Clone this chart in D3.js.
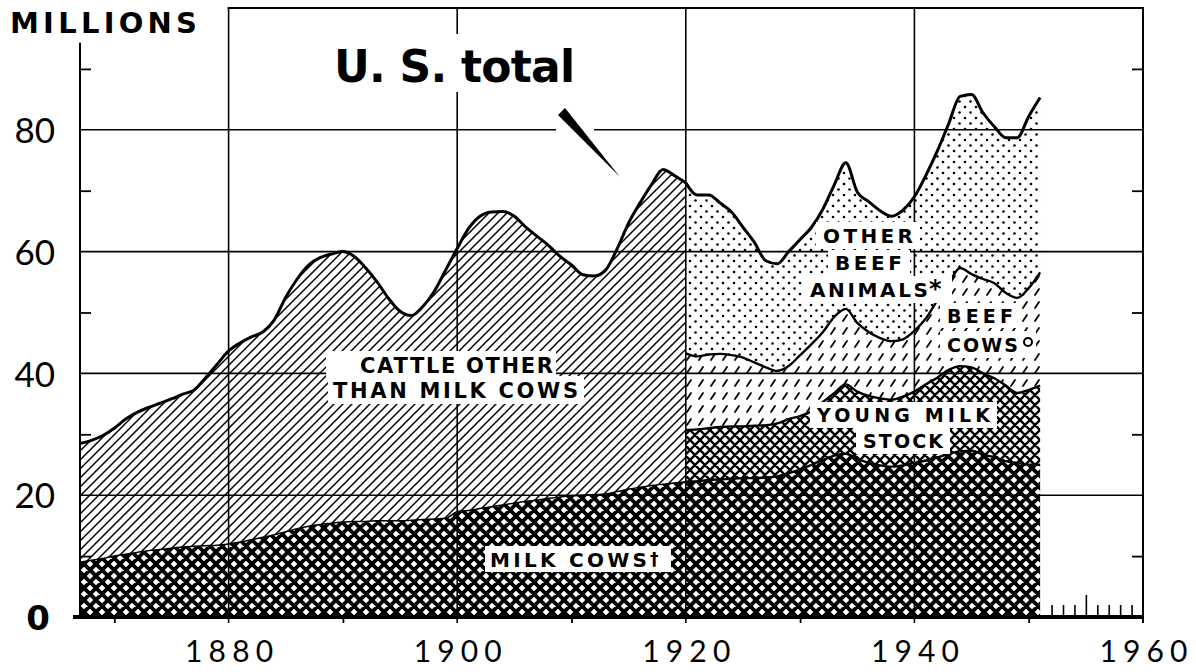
<!DOCTYPE html>
<html lang="en">
<head>
<meta charset="UTF-8">
<title>Cattle on farms, U.S. total</title>
<script src="https://cdn.jsdelivr.net/npm/d3@7"></script>
<style>
    body { margin: 0; background: #fff; }
    text { font-family: Lato, "Open Sans", sans-serif; fill: #000; }
    .bold { font-family: "DejaVu Sans", Lato, sans-serif; font-weight: 700; }
</style>
</head>
<body>
<script>
    var width = 1196;
    var height = 672;

    // ---- data (millions of head, Jan. 1) ----
    var years = d3.range(1867, 1952);
    var milkCows = [
        9.0, 9.3, 9.6, 10.0, 10.3, 10.6, 10.9, 11.1, 11.3, 11.5,
        11.6, 11.7, 11.8, 12.0, 12.3, 12.7, 13.1, 13.5, 14.0, 14.5,
        14.9, 15.2, 15.4, 15.6, 15.7, 15.7, 15.8, 15.8, 15.8, 15.9,
        16.0, 16.1, 16.2, 17.3, 17.5, 17.8, 18.1, 18.4, 18.7, 19.0,
        19.2, 19.5, 19.7, 19.9, 20.0, 20.1, 20.2, 20.6, 21.0, 21.3,
        21.6, 21.8, 22.0, 22.2, 22.3, 22.5, 22.6, 22.7, 22.8, 22.8,
        22.9, 23.1, 23.6, 24.2, 25.0, 25.8, 26.5, 26.8, 26.0, 25.3,
        24.9, 24.7, 24.9, 25.3, 25.7, 26.2, 26.8, 27.2, 27.3, 26.7,
        26.2, 25.6, 25.3, 25.0, 25.0
    ];
    // 1867-1920
    var earlyYears = d3.range(1867, 1921);
    var otherCattle = [
        19.5, 19.7, 20.2, 21.0, 22.2, 23.0, 23.5, 24.0, 24.5, 25.1,
        25.7, 27.6, 29.7, 31.7, 32.7, 33.3, 33.7, 35.3, 38.5, 41.0,
        42.9, 43.8, 44.2, 44.4, 43.5, 41.6, 39.2, 36.5, 34.4, 33.6,
        35.0, 37.4, 40.8, 43.2, 46.3, 48.0, 48.4, 48.2, 47.1, 45.0,
        43.3, 41.5, 39.5, 37.9, 36.2, 35.9, 36.8, 39.9, 43.7, 46.7,
        49.4, 51.7, 50.5, 49.1
    ];
    // 1920-1951
    var lateYears = d3.range(1920, 1952);
    var youngMilkStock = [
        8.5, 8.5, 8.5, 8.6, 8.6, 8.5, 8.6, 8.6, 8.7, 8.9,
        8.8, 8.8, 9.5, 10.3, 11.4, 11.0, 11.0, 11.0, 11.0, 11.3,
        11.7, 12.5, 13.1, 13.8, 14.0, 13.7, 13.3, 13.0, 12.4, 11.5,
        12.3, 13.0
    ];
    var beefCows = [
        12.6, 12.0, 12.1, 12.0, 11.7, 11.3, 10.4, 9.5, 8.6, 8.7,
        10.0, 11.0, 11.5, 12.5, 12.4, 11.3, 10.5, 9.9, 9.6, 9.4,
        10.0, 10.8, 12.7, 14.2, 16.1, 15.3, 15.5, 15.6, 15.2, 15.6,
        16.7, 18.6
    ];
    var otherBeefAnimals = [
        28.0, 26.5, 26.2, 24.8, 23.5, 21.4, 19.7, 17.5, 17.6, 18.8,
        19.0, 19.2, 20.2, 21.7, 24.0, 21.5, 21.4, 20.9, 20.5, 21.2,
        22.0, 23.5, 24.5, 26.2, 28.2, 29.5, 27.3, 25.7, 25.5, 26.3,
        28.2, 28.7
    ];
    var yLabels = [20, 40, 60, 80];
    var yMinor = [10, 30, 50, 70, 90];
    var xLabels = [1880, 1900, 1920, 1940, 1960];
    var xMinor = [1870, 1890, 1910, 1930, 1950];
    var xYearTicks = [1952, 1953, 1954, 1956, 1957, 1958, 1959];

    var svg = d3.select('body').append('svg')
            .attr('width', width)
            .attr('height', height);

    var x = d3.scaleLinear().domain([1867, 1960]).range([80, 1143]);
    var y = d3.scaleLinear().domain([0, 100]).range([617, 8]);

    // ---- fill patterns ----
    var defs = svg.append('defs');
    function pattern(id, w, h) {
        var p = defs.append('pattern')
                .attr('id', id)
                .attr('patternUnits', 'userSpaceOnUse')
                .attr('width', w)
                .attr('height', h);
        p.append('rect').attr('width', w).attr('height', h).attr('fill', '#fff');
        return p;
    }
    function cross(id, s, sw) {
        var p = pattern(id, s, s);
        p.append('path')
                .attr('d', 'M0,0L' + s + ',' + s + 'M' + s + ',0L0,' + s +
                        'M-1,1L1,-1M' + (s - 1) + ',' + (s + 1) + 'L' + (s + 1) + ',' + (s - 1) +
                        'M-1,' + (s - 1) + 'L1,' + (s + 1) + 'M' + (s - 1) + ',-1L' + (s + 1) + ',1')
                .attr('stroke', '#000')
                .attr('stroke-width', sw);
    }
    cross('milk', 12, 3.8);
    cross('young', 10, 2.4);
    var hatch = pattern('hatch', 9, 9);
    hatch.append('path')
            .attr('d', 'M-1,1L1,-1M0,9L9,0M8,10L10,8')
            .attr('stroke', '#000')
            .attr('stroke-width', 1.5);
    var dash = pattern('dash', 12, 13);
    dash.append('path')
            .attr('d', 'M3,9L7,3')
            .attr('stroke', '#000')
            .attr('stroke-width', 1.8)
            .attr('stroke-linecap', 'round');
    var dots = pattern('dots', 11, 11);
    dots.append('circle').attr('cx', 2.5).attr('cy', 2.5).attr('r', 1.3);
    dots.append('circle').attr('cx', 8).attr('cy', 8).attr('r', 1.3);

    // ---- stacks ----
    var allRows = years.map(function (yr, i) {
        return {year: yr, milk: milkCows[i]};
    });
    var earlyRows = earlyYears.map(function (yr, i) {
        return {year: yr, milk: milkCows[i], other: otherCattle[i]};
    });
    var lateRows = lateYears.map(function (yr, i) {
        return {
            year: yr,
            milk: milkCows[yr - 1867],
            young: youngMilkStock[i],
            beef: beefCows[i],
            otherBeef: otherBeefAnimals[i]
        };
    });
    var milkStack = d3.stack().keys(['milk'])(allRows);
    var earlyStack = d3.stack().keys(['milk', 'other'])(earlyRows);
    var lateStack = d3.stack().keys(['milk', 'young', 'beef', 'otherBeef'])(lateRows);

    var curve = d3.curveMonotoneX;
    var area = d3.area()
            .x(function (d) { return x(d.data.year); })
            .y0(function (d) { return y(d[0]); })
            .y1(function (d) { return y(d[1]); })
            .curve(curve);
    var topLine = d3.line()
            .x(function (d) { return x(d.data.year); })
            .y(function (d) { return y(d[1]); })
            .curve(curve);

    var areas = svg.append('g');
    areas.append('path').attr('d', area(earlyStack[1])).attr('fill', 'url(#hatch)');
    areas.append('path').attr('d', area(lateStack[3])).attr('fill', 'url(#dots)');
    areas.append('path').attr('d', area(lateStack[2])).attr('fill', 'url(#dash)');
    areas.append('path').attr('d', area(lateStack[1])).attr('fill', 'url(#young)');
    areas.append('path').attr('d', area(milkStack[0])).attr('fill', 'url(#milk)');

    // ---- grid and frame ----
    var grid = svg.append('g').attr('stroke', '#000').attr('fill', 'none');
    grid.selectAll('.hg').data(yLabels).enter().append('line')
            .attr('x1', x(1867)).attr('x2', x(1960))
            .attr('y1', function (d) { return y(d); })
            .attr('y2', function (d) { return y(d); })
            .attr('stroke-width', 1.6);
    grid.selectAll('.vg').data(xLabels.slice(0, 4)).enter().append('line')
            .attr('x1', function (d) { return x(d); })
            .attr('x2', function (d) { return x(d); })
            .attr('y1', y(100)).attr('y2', y(0) + 6)
            .attr('stroke-width', 1.6);
    grid.append('line').attr('x1', x(1880) - 1).attr('x2', x(1960) + 1)
            .attr('y1', y(100)).attr('y2', y(100)).attr('stroke-width', 2);
    grid.append('line').attr('x1', x(1960)).attr('x2', x(1960))
            .attr('y1', y(100)).attr('y2', y(0) + 6).attr('stroke-width', 2);
    grid.append('line').attr('x1', x(1867)).attr('x2', x(1867))
            .attr('y1', y(94.3)).attr('y2', y(0)).attr('stroke-width', 2);

    // ---- boundary lines ----
    var lines = svg.append('g').attr('fill', 'none').attr('stroke', '#000')
            .attr('stroke-linejoin', 'round');
    lines.append('path').attr('d', topLine(earlyStack[0])).attr('stroke-width', 1.5);
    lines.append('path').attr('d', topLine(lateStack[0])).attr('stroke-width', 2.4);
    lines.append('path').attr('d', topLine(lateStack[1])).attr('stroke-width', 2.4);
    lines.append('path').attr('d', topLine(lateStack[2])).attr('stroke-width', 2.4);
    lines.append('path').attr('d', topLine(earlyStack[1])).attr('stroke-width', 3);
    lines.append('path').attr('d', topLine(lateStack[3])).attr('stroke-width', 3);

    // ---- axes ----
    var xAxis = svg.append('g')
            .attr('transform', 'translate(0,' + y(0) + ')')
            .call(d3.axisBottom(x).tickValues(xLabels).tickSize(0).tickPadding(24)
                    .tickFormat(d3.format('d')));
    xAxis.select('.domain').remove();
    xAxis.selectAll('text')
            .attr('font-size', 30)
            .attr('font-family', 'Lato, sans-serif')
            .attr('textLength', 88)
            .attr('lengthAdjust', 'spacing');

    var xMinorAxis = svg.append('g')
            .attr('transform', 'translate(0,' + y(0) + ')')
            .call(d3.axisBottom(x).tickValues(xMinor).tickSize(6).tickFormat(''));
    xMinorAxis.select('.domain').remove();
    xMinorAxis.selectAll('line').attr('stroke-width', 1.8);

    var xYearAxis = svg.append('g')
            .attr('transform', 'translate(0,' + y(0) + ')')
            .call(d3.axisBottom(x).tickValues(xYearTicks).tickSize(-12).tickFormat(''));
    xYearAxis.select('.domain').remove();
    xYearAxis.selectAll('line').attr('stroke-width', 1.6);
    var xMidAxis = svg.append('g')
            .attr('transform', 'translate(0,' + y(0) + ')')
            .call(d3.axisBottom(x).tickValues([1955]).tickSize(-22).tickFormat(''));
    xMidAxis.select('.domain').remove();
    xMidAxis.selectAll('line').attr('stroke-width', 1.6);

    svg.append('line')
            .attr('x1', x(1867) - 7).attr('x2', x(1960) + 1)
            .attr('y1', y(0)).attr('y2', y(0))
            .attr('stroke', '#000').attr('stroke-width', 4);

    var yAxis = svg.append('g')
            .attr('transform', 'translate(' + x(1867) + ',0)')
            .call(d3.axisLeft(y).tickValues(yLabels).tickSize(0).tickPadding(25));
    yAxis.select('.domain').remove();
    yAxis.selectAll('text')
            .attr('font-size', 35)
            .attr('font-family', 'Lato, sans-serif')
            .attr('dy', '0.36em');

    var yMinorL = svg.append('g')
            .attr('transform', 'translate(' + x(1867) + ',0)')
            .call(d3.axisLeft(y).tickValues(yMinor).tickSize(-11).tickFormat(''));
    yMinorL.select('.domain').remove();
    yMinorL.selectAll('line').attr('stroke-width', 1.8);
    var yMinorR = svg.append('g')
            .attr('transform', 'translate(' + x(1960) + ',0)')
            .call(d3.axisRight(y).tickValues(yMinor).tickSize(-11).tickFormat(''));
    yMinorR.select('.domain').remove();
    yMinorR.selectAll('line').attr('stroke-width', 1.8);

    svg.append('text')
            .attr('class', 'bold')
            .attr('x', 50).attr('y', y(0) + 13)
            .attr('text-anchor', 'end')
            .attr('font-size', 34)
            .text('0');

    // ---- labels ----
    var labels = [
        {t: 'CATTLE OTHER', x: 360, y: 373, w: 193, fs: 21},
        {t: 'THAN MILK COWS', x: 333, y: 398, w: 245, fs: 21},
        {t: 'OTHER', x: 823, y: 243, w: 90, fs: 20},
        {t: 'BEEF', x: 835, y: 270, w: 67, fs: 20},
        {t: 'ANIMALS', x: 810, y: 297, w: 118, fs: 20},
        {t: 'BEEF', x: 947, y: 323, w: 66, fs: 19},
        {t: 'COWS', x: 947, y: 352, w: 71, fs: 19},
        {t: 'YOUNG MILK', x: 817, y: 422, w: 173, fs: 19},
        {t: 'STOCK', x: 863, y: 448, w: 80, fs: 19},
        {t: 'MILK COWS', x: 490, y: 567, w: 157, fs: 20}
    ];
    var boxes = [
        [326, 351, 230, 26], [328, 376, 256, 28],
        [816, 222, 104, 27], [828, 250, 82, 25], [804, 276, 148, 27],
        [940, 303, 80, 25], [940, 331, 96, 27],
        [810, 402, 187, 26], [856, 428, 94, 26],
        [485, 546, 186, 26],
        [328, 34, 258, 58], [556, 126, 38, 8]
    ];
    svg.append('g').selectAll('rect').data(boxes).enter().append('rect')
            .attr('x', function (d) { return d[0]; })
            .attr('y', function (d) { return d[1]; })
            .attr('width', function (d) { return d[2]; })
            .attr('height', function (d) { return d[3]; })
            .attr('fill', '#fff');

    svg.append('g').selectAll('text').data(labels).enter().append('text')
            .attr('class', 'bold')
            .attr('x', function (d) { return d.x; })
            .attr('y', function (d) { return d.y; })
            .attr('font-size', function (d) { return d.fs; })
            .attr('textLength', function (d) { return d.w; })
            .attr('lengthAdjust', 'spacing')
            .text(function (d) { return d.t; });

    // footnote marks
    svg.append('text').attr('class', 'bold').attr('x', 929).attr('y', 297)
            .attr('font-size', 24).text('*');
    svg.append('circle').attr('cx', 1028).attr('cy', 342).attr('r', 4)
            .attr('fill', 'none').attr('stroke', '#000').attr('stroke-width', 2);
    svg.append('text').attr('class', 'bold').attr('x', 650).attr('y', 565)
            .attr('font-size', 17).text('\u2020');

    svg.append('text')
            .attr('class', 'bold')
            .attr('x', 10).attr('y', 33)
            .attr('font-size', 29)
            .attr('textLength', 187)
            .attr('lengthAdjust', 'spacing')
            .text('MILLIONS');

    svg.append('text')
            .attr('class', 'bold')
            .attr('x', 334).attr('y', 82)
            .attr('font-size', 44)
            .attr('textLength', 241)
            .attr('lengthAdjust', 'spacing')
            .text('U. S. total');

    // pointer to the total line
    svg.append('path')
            .attr('d', 'M558,115L565,108L620,177Z')
            .attr('fill', '#000');
</script>
</body>
</html>
